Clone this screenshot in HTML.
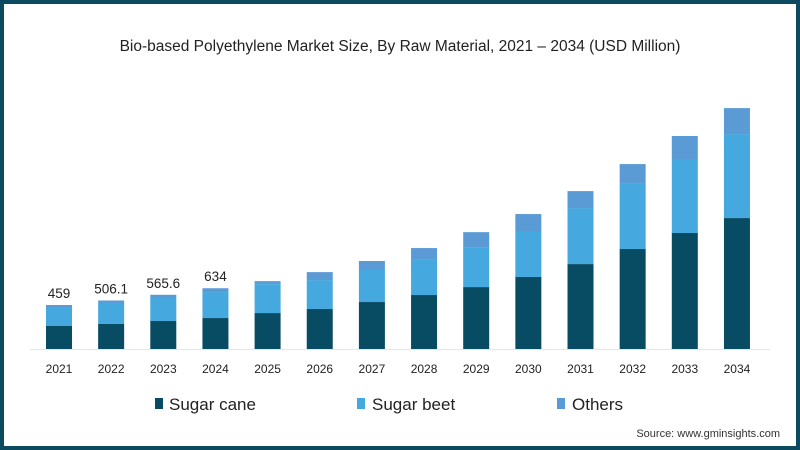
<!DOCTYPE html>
<html><head><meta charset="utf-8"><style>
html,body{margin:0;padding:0;background:#fff}
#wrap{position:relative;width:800px;height:450px;box-sizing:border-box;border:4px solid #0b4a5f;background:#fff;font-family:"Liberation Sans",sans-serif;overflow:hidden}
svg{position:absolute;left:-4px;top:-4px}
</style></head><body>
<div id="wrap">
<svg id="chart" width="800" height="450">
<text x="400" y="51" text-anchor="middle" font-size="15.5" fill="#222">Bio-based Polyethylene Market Size, By Raw Material, 2021 – 2034 (USD Million)</text>
<line x1="30" y1="349.5" x2="770" y2="349.5" stroke="#e6e6e6" stroke-width="1"/>
<g id="bars"></g>
<g>
<rect x="155" y="398" width="8" height="11" fill="#084c64"/>
<text x="169" y="410" font-size="17" fill="#222">Sugar cane</text>
<rect x="357" y="398" width="8" height="11" fill="#45a8de"/>
<text x="372" y="410" font-size="17" fill="#222">Sugar beet</text>
<rect x="557" y="398" width="8" height="11" fill="#5b9bd5"/>
<text x="572" y="410" font-size="17" fill="#222">Others</text>
</g>
<text x="780" y="437" text-anchor="end" font-size="11" fill="#333">Source: www.gminsights.com</text>
</svg>
</div>
<script>
const years=["2021","2022","2023","2024","2025","2026","2027","2028","2029","2030","2031","2032","2033","2034"];
const sugarCane=[240,261,292,323,375,417,490,563,646,751,886,1043,1210,1366];
const sugarBeet=[198,219,240,271,302,302,334,375,417,480,584,688,772,876];
const others=[21,26.1,33.6,40,31,83,94,115,156,177,177,198,240,271];
const totalLabels=["459","506.1","565.6","634","","","","","","","","","",""];
const baseY=349, pxPerUnit=44/459;
function yScale(v){return baseY - v*pxPerUnit;}
function xCenter(i){return 59 + i*52.15;}
const barW=26;
const g=document.getElementById('bars');
const NS="http://www.w3.org/2000/svg";
function rect(x,y0,y1,fill,name){
  const r=document.createElementNS(NS,'rect');
  r.setAttribute('x',x);r.setAttribute('y',y1);r.setAttribute('width',barW);r.setAttribute('height',Math.max(0,y0-y1));r.setAttribute('fill',fill);
  
  
  g.appendChild(r);
}
years.forEach((yr,i)=>{
  const x=xCenter(i)-barW/2;
  const a=sugarCane[i], b=a+sugarBeet[i], c=b+others[i];
  rect(x,yScale(0),yScale(a),'#084c64','bar-sugar-cane-'+yr);
  rect(x,yScale(a),yScale(b),'#45a8de','bar-sugar-beet-'+yr);
  rect(x,yScale(b),yScale(c),'#5b9bd5','bar-others-'+yr);
  const t=document.createElementNS(NS,'text');
  t.setAttribute('x',xCenter(i));t.setAttribute('y',373);t.setAttribute('text-anchor','middle');t.setAttribute('font-size','12');t.setAttribute('fill','#222');
  t.textContent=yr;
  
  
  g.appendChild(t);
  if(totalLabels[i]){
    const l=document.createElementNS(NS,'text');
    l.setAttribute('x',xCenter(i));l.setAttribute('y',yScale(c)-7);l.setAttribute('text-anchor','middle');l.setAttribute('font-size','13.5');l.setAttribute('fill','#222');
    l.textContent=totalLabels[i];
    
    
    g.appendChild(l);
  }
});
</script>
</body></html>
